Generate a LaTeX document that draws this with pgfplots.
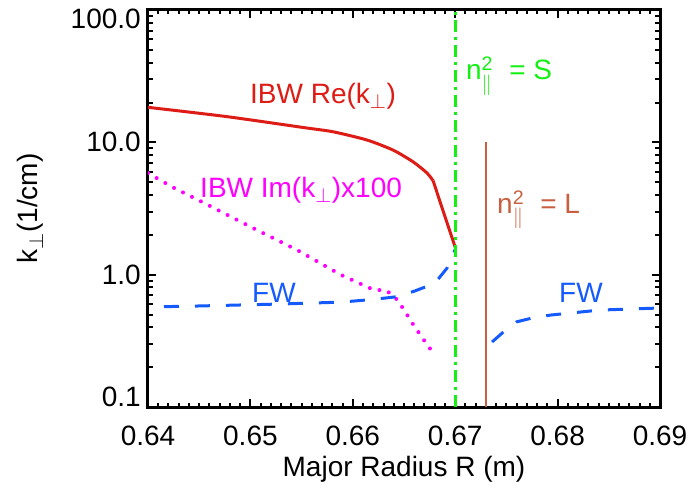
\documentclass[border=0pt]{standalone}
\usepackage{amsmath}
\usepackage{fontspec}
\setmainfont{Liberation Sans}
\usepackage{pgfplots}
\pgfplotsset{compat=1.18}
\definecolor{cRe}{RGB}{222,28,22}
\definecolor{cIm}{RGB}{255,0,255}
\definecolor{cFW}{RGB}{20,90,255}
\definecolor{cS}{RGB}{20,240,20}
\definecolor{cL}{RGB}{200,95,65}
\newcommand{\F}{\fontsize{28bp}{33bp}\selectfont}
\begin{document}
\begin{tikzpicture}
\begin{axis}[
  at={(0,0)}, anchor=south west,
  scale only axis, width=512bp, height=397bp,
  xmin=0.64, xmax=0.69, ymode=log, ymin=0.1, ymax=100,
  xtick={0.64,0.65,0.66,0.67,0.68,0.69},
  xticklabels={0.64,0.65,0.66,0.67,0.68,0.69},
  minor x tick num=9,
  ytick={0.1,1,10,100},
  yticklabels={\raisebox{10bp}[\height][\depth]{0.1},1.0,10.0,\raisebox{-9bp}[\height][\depth]{100.0}},
  axis line style={line width=3bp},
  x tick label style={font=\F, anchor=base, yshift=-38bp, inner sep=0pt},
  y tick label style={font=\F, anchor=east, xshift=-7bp, inner sep=0pt},
  every axis x label/.style={at={(axis description cs:0.5,-0.1763)}, anchor=base, font=\F, inner sep=0pt},
  every axis y label/.style={at={(axis description cs:-0.2305,0.5)}, rotate=90, anchor=center, font=\F, inner sep=0pt},
  xlabel={Major Radius R (m)},
  ylabel={k$_\perp$(1/cm)},
]
% tick marks on the four sides
\pgfplotsinvokeforeach{0.65,0.66,0.67,0.68}{
  \addplot[black, line width=2.2bp, forget plot] coordinates {(#1,0.1) (#1,0.11494)};
  \addplot[black, line width=2.2bp, forget plot] coordinates {(#1,100) (#1,87.0)};
}
\pgfplotsinvokeforeach{0.641,0.642,0.643,0.644,0.645,0.646,0.647,0.648,0.649,
  0.651,0.652,0.653,0.654,0.655,0.656,0.657,0.658,0.659,
  0.661,0.662,0.663,0.664,0.665,0.666,0.667,0.668,0.669,
  0.671,0.672,0.673,0.674,0.675,0.676,0.677,0.678,0.679,
  0.681,0.682,0.683,0.684,0.685,0.686,0.687,0.688,0.689}{
  \addplot[black, line width=2bp, forget plot] coordinates {(#1,0.1) (#1,0.10814)};
  \addplot[black, line width=2bp, forget plot] coordinates {(#1,100) (#1,92.47)};
}
\pgfplotsinvokeforeach{1,10}{
  \addplot[black, line width=2.2bp, forget plot] coordinates {(0.64,#1) (0.64078,#1)};
  \addplot[black, line width=2.2bp, forget plot] coordinates {(0.69,#1) (0.68922,#1)};
}
\pgfplotsinvokeforeach{0.2,0.3,0.4,0.5,0.6,0.7,0.8,0.9,2,3,4,5,6,7,8,9,20,30,40,50,60,70,80,90}{
  \addplot[black, line width=2bp, forget plot] coordinates {(0.64,#1) (0.64044,#1)};
  \addplot[black, line width=2bp, forget plot] coordinates {(0.69,#1) (0.68956,#1)};
}
\addplot[cRe, line width=3bp, smooth, tension=0.4] table {
0.64000 18.39
0.64762 15.67
0.65533 12.89
0.65807 12.02
0.66139 10.41
0.66393 8.74
0.66588 7.13
0.66725 5.86
0.66784 5.13
};
\addplot[cRe, line width=3bp] table {
0.66784 5.13
0.67000 1.61
};
\addplot[cIm, line width=4bp, line cap=round, dash pattern=on 0bp off 10bp] table {
0.6400 5.86
0.6424 4.58
0.6453 3.54
0.6503 2.24
0.6546 1.53
0.6588 1.00
0.6620 0.77
0.6633 0.76
0.6644 0.64
0.6659 0.42
0.6672 0.30
0.6678 0.26
};
\addplot[cFW, line width=3bp, dash pattern=on 15bp off 16bp, dash phase=15bp] table {
0.6400 0.57
0.6450 0.58
0.6529 0.60
0.6588 0.62
0.6620 0.65
0.6642 0.68
0.6660 0.75
0.6680 0.86
0.6692 1.12
0.6700 1.55
};
\addplot[cFW, line width=3bp, dash pattern=on 15bp off 16bp] table {
0.6736 0.31
0.6749 0.38
0.6760 0.44
0.6775 0.47
0.6793 0.495
0.6841 0.54
0.6900 0.56
};
\addplot[cS, line width=3bp, dash pattern=on 12bp off 5bp on 3bp off 5bp] coordinates {(0.67,0.1) (0.67,100)};
\addplot[cL, line width=2.6bp] coordinates {(0.673,0.1) (0.673,10)};
\node[anchor=base west, text=cRe, font=\F, inner sep=0pt] at (axis cs:0.64996,19.8) {IBW Re(k$_\perp$)};
\node[anchor=base west, text=cIm, font=\F, inner sep=0pt] at (axis cs:0.64508,3.86) {IBW Im(k$_\perp$)x100};
\node[anchor=base west, text=cFW, font=\F, inner sep=0pt] at (axis cs:0.65016,0.621) {FW};
\node[anchor=base west, text=cFW, font=\F, inner sep=0pt] at (axis cs:0.68014,0.621) {FW};
\node[anchor=base west, text=cS, font=\F, inner sep=0pt] at (axis cs:0.67105,29.6) {n$^{\text{2}}_{\|}$\hspace{0.3em} = S};
\node[anchor=base west, text=cL, font=\F, inner sep=0pt] at (axis cs:0.67408,2.92) {n$^{\text{2}}_{\|}$\hspace{0.3em} = L};
\end{axis}
\pgfresetboundingbox
\path[use as bounding box] (-148bp,-82bp) rectangle (546bp,407bp);
\end{tikzpicture}
\end{document}
